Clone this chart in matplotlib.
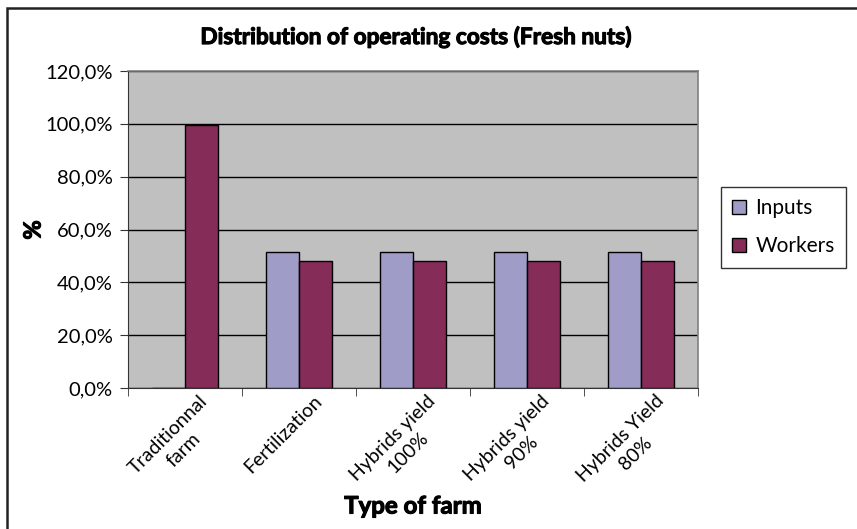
import matplotlib
matplotlib.use("Agg")
import matplotlib.pyplot as plt
import matplotlib.patheffects as pe
from matplotlib.patches import Rectangle
from matplotlib.ticker import FuncFormatter, MultipleLocator
import numpy as np

plt.rcParams['font.family'] = ['Lato', 'DejaVu Sans']

categories = ["Traditionnal\nfarm", "Fertilization", "Hybrids yield\n100%",
              "Hybrids yield\n90%", "Hybrids Yield\n80%"]
inputs = [0.0, 51.5, 51.5, 51.5, 51.5]
workers = [99.4, 48.2, 48.2, 48.2, 48.2]

W, H = 857, 529
fig = plt.figure(figsize=(W / 100, H / 100), dpi=100)
fig.patch.set_facecolor("white")

# chart-area frame (only top and left edges fall inside the canvas)
fig.patches.append(Rectangle((7 / W, -0.05), 1.2, (H - 8) / H + 0.05,
                             transform=fig.transFigure, fill=False,
                             edgecolor="#222222", linewidth=1.8))

ax = fig.add_axes([128 / W, (H - 388) / H, (698 - 128) / W, (388 - 71) / H])
ax.set_facecolor("#C0C0C0")

x = np.arange(len(categories))
w = 1 / 3.5
ax.bar(x - w / 2, inputs, w, color="#A09CC8", edgecolor="black", linewidth=1.0,
       label="Inputs", zorder=3)
ax.bar(x + w / 2, workers, w, color="#852C58", edgecolor="black", linewidth=1.0,
       label="Workers", zorder=3)

ax.set_xlim(-0.5, len(categories) - 0.5)
ax.set_ylim(0, 120)
ax.yaxis.set_major_locator(MultipleLocator(20))
ax.yaxis.set_major_formatter(FuncFormatter(lambda v, p: f"{v:.1f}%".replace(".", ",")))
ax.grid(axis="y", color="black", linewidth=1.0, zorder=1)
ax.set_axisbelow(True)

for side in ["top", "right"]:
    ax.spines[side].set_color("#808080")
    ax.spines[side].set_linewidth(1.2)
ax.spines["left"].set_color("#333333")
ax.spines["bottom"].set_color("#333333")

ax.tick_params(axis="y", direction="out", length=6, labelsize=14.5, pad=5, color="#333333")
ax.set_xticks(np.arange(len(categories) + 1) - 0.5, minor=True)
ax.set_xticks(x)
ax.tick_params(axis="x", which="major", length=0, labelbottom=False)
ax.tick_params(axis="x", which="minor", direction="out", length=6, color="#333333")

for xi, lab in zip(x, categories):
    ax.annotate(lab, xy=(xi, 0), xycoords="data", xytext=(10, -3),
                textcoords="offset points", rotation=45, rotation_mode="anchor",
                ha="right", va="top", multialignment="center", fontsize=14,
                linespacing=1.3)

heavy = [pe.withStroke(linewidth=0.8, foreground="black")]
fig.text(416 / W, 1 - 37 / H, "Distribution of operating costs (Fresh nuts)",
         ha="center", va="center", fontsize=16.3, fontweight="bold",
         path_effects=heavy)
fig.text(413 / W, 1 - 506 / H, "Type of farm", ha="center", va="center",
         fontsize=17.3, fontweight="bold", path_effects=heavy)
fig.text(33 / W, 1 - 230 / H, "%", ha="center", va="center", rotation=90,
         fontsize=17, fontweight="bold", path_effects=heavy)

leg = fig.legend(loc="upper left", bbox_to_anchor=(721 / W, 1 - 187 / H),
                 frameon=True, fancybox=False, fontsize=15, handlelength=0.65,
                 handleheight=0.65, handletextpad=0.45, labelspacing=0.85,
                 borderpad=0.55, borderaxespad=0)
leg.get_frame().set_edgecolor("black")
leg.get_frame().set_linewidth(1.0)

fig.savefig("out.png", dpi=100)
